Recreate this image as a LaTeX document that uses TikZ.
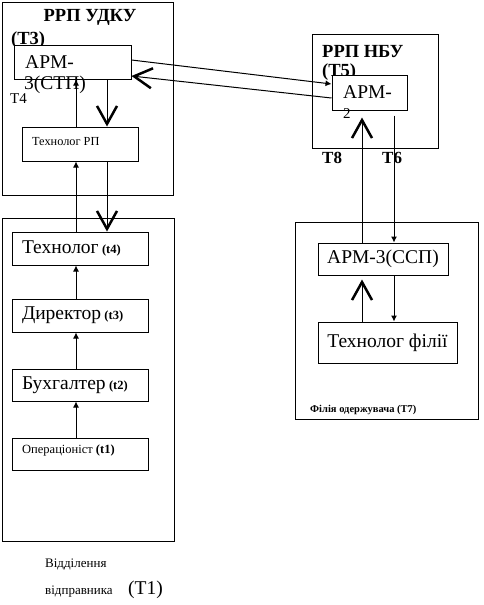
\documentclass[tikz,border=0pt]{standalone}
\usepackage{fontspec}
\setmainfont{Liberation Serif}
\usetikzlibrary{arrows.meta,calc}
\newcommand{\smalltip}{Latex[length=6pt,width=6pt]}
\newcommand{\bigtip}{Straight Barb[length=18pt,width=20pt,line width=2.5pt]}
\newcommand{\fbig}{\fontsize{19.5}{21}\selectfont}
\newcommand{\fmid}{\fontsize{15}{17}\selectfont}
\newcommand{\fsmall}{\fontsize{12.3}{14}\selectfont}
\newcommand{\fsend}{\fontsize{13}{15}\selectfont}
\newcommand{\ftitle}{\fontsize{18.5}{20}\selectfont\bfseries}
\newcommand{\ftag}{\fontsize{17}{19}\selectfont\bfseries}
\newcommand{\fnote}{\fontsize{10.5}{12}\selectfont\bfseries}
\newcommand{\ftn}{\fontsize{12.5}{14}\selectfont\bfseries}
\tikzset{
  box/.style={draw, fill=white, line width=1pt, inner sep=0pt},
  frame/.style={draw, line width=1pt},
  txt/.style={anchor=base west, inner sep=0pt},
  up/.style={-\smalltip, line width=1pt},
  bigup/.style={-\bigtip, line width=1pt},
}

\begin{document}
\begin{tikzpicture}[x=1pt,y=-1pt]
  % General frame is (0,0) to (483,605), y goes down

  \useasboundingbox (0,0) rectangle (483,605);

  % frames
  \draw[frame] (2,2) rectangle (173,195);     % РРП УДКУ
  \draw[frame] (2,218) rectangle (174,541);   % sender
  \draw[frame] (312,34) rectangle (438,148);  % РРП НБУ
  \draw[frame] (295,222) rectangle (478,419); % receiver

  % columns of the vertical links
  \coordinate (lx) at (76,0);
  \coordinate (rx) at (107,0);
  \coordinate (px) at (362,0);
  \coordinate (qx) at (394,0);

  % РРП УДКУ
  \node[anchor=base, font=\ftitle] (udku) at (90,21) {РРП УДКУ};
  \node[txt, font=\ftitle] (t3) at (11,44) {(Т3)};
  \node[box, minimum width=117pt, minimum height=34pt] (armu) at (72.5,62) {};
  \node[txt, font=\fbig] (armua) at (25,68) {АРМ-};
  \node[txt, font=\fbig] (armub) at (24,89) {3(СТП)};
  \node[txt, font=\fmid] (t4) at (10,103) {Т4};
  \node[box, minimum width=116pt, minimum height=34pt] (techrp) at (80,144) {};
  \node[txt, font=\fsmall] (techrpl) at (32,145) {Технолог РП};

  % sender
  \node[box, minimum width=136pt, minimum height=33pt, text width=116pt, align=left] (tech) at (80,248.5)
    {\fbig Технолог {\ftn (t4)}};
  \node[box, minimum width=136pt, minimum height=33pt, text width=116pt, align=left] (dir) at (80,315.5)
    {\fbig Директор {\ftn (t3)}};
  \node[box, minimum width=136pt, minimum height=32pt, text width=116pt, align=left] (buh) at (80,385)
    {\fbig Бухгалтер {\ftn (t2)}};
  \node[box, minimum width=136pt, minimum height=32pt] (oper) at (80,454) {};
  \node[txt, font=\fontsize{12.5}{14}\selectfont] (operl) at (22,453) {Операціоніст \textbf{(t1)}};
  \node[txt, font=\fsend] (send1) at (45,567) {Відділення};
  \node[txt, font=\fsend] (send2) at (45,594) {відправника};
  \node[txt, font=\fbig] (t1) at (128,594) {(Т1)};

  % РРП НБУ
  \node[txt, font=\ftitle] (nbu) at (322,57) {РРП НБУ};
  \node[txt, font=\ftitle] (t5) at (322,76) {(Т5)};
  \node[box, minimum width=75pt, minimum height=35pt] (arm2) at (369.5,92.5) {};
  \node[txt, font=\fbig] (arm2a) at (343,98) {АРМ-};
  \node[txt, font=\fmid] (arm2b) at (343,118) {2};
  \node[txt, font=\ftag] (t8) at (322,163) {Т8};
  \node[txt, font=\ftag] (t6) at (382,163) {Т6};

  % receiver
  \node[box, minimum width=130pt, minimum height=32pt, font=\fbig] (arm3s) at (383,259) {АРМ-3(ССП)};
  \node[box, minimum width=139pt, minimum height=41pt, font=\fbig] (techf) at (387.5,342.5) {Технолог філії};
  \node[txt, font=\fnote] (t7) at (310,412) {Філія одержувача (Т7)};

  % links inside РРП УДКУ and sender
  \draw[bigup] (armu.south -| rx) -- (techrp.north -| rx);
  \draw[up] (techrp.north -| lx) -- (armu.south -| lx);
  \draw[up] (tech.north -| lx) -- (techrp.south -| lx);
  \draw[bigup] (techrp.south -| rx) -- (tech.north -| rx);
  \draw[up] (dir.north -| lx) -- (tech.south -| lx);
  \draw[up] (buh.north -| lx) -- (dir.south -| lx);
  \draw[up] (oper.north -| lx) -- (buh.south -| lx);

  % links between УДКУ and НБУ
  \draw[up] ($(armu.east)+(0,-2)$) -- ($(arm2.west)+(0,-8.5)$);
  \draw[bigup] ($(arm2.west)+(0,5.5)$) -- ($(armu.east)+(0,14)$);

  % links of the receiver
  \draw[bigup, shorten >=7pt] (arm3s.north -| px) -- (arm2.south -| px);
  \draw[up, shorten <=5pt] (arm2.south -| qx) -- (arm3s.north -| qx);
  \draw[bigup, shorten >=4pt] (techf.north -| px) -- (arm3s.south -| px);
  \draw[up] (arm3s.south -| qx) -- (techf.north -| qx);

\end{tikzpicture}
\end{document}
